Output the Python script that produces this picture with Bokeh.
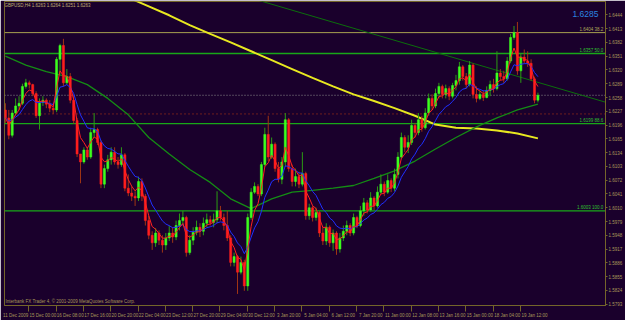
from bokeh.plotting import figure
from bokeh.models import Range1d, FixedTicker, Label, PrintfTickFormatter, ColumnDataSource
from bokeh.embed import file_html
from bokeh.resources import INLINE
from bokeh.core.properties import value

# ---------------- data (GBPUSD, H4) ----------------
first_open = 1.6230
closes = [1.6212,1.6173,1.6223,1.6239,1.6245,1.6283,1.6291,1.6287,1.6267,1.6217,
 1.6247,1.6252,1.6243,1.6234,1.6230,1.6344,1.6375,1.6291,1.6305,1.6252,
 1.6206,1.6131,1.6113,1.6140,1.6124,1.6179,1.6186,1.6157,1.6063,1.6098,
 1.6118,1.6135,1.6113,1.6107,1.6129,1.6054,1.6043,1.6036,1.6032,1.6069,
 1.6036,1.5981,1.5948,1.5931,1.5953,1.5937,1.5926,1.5942,1.5953,1.5944,
 1.5970,1.5981,1.5988,1.5909,1.5937,1.5955,1.5966,1.5957,1.5975,1.5983,
 1.5977,1.5983,1.6003,1.5988,1.5970,1.5942,1.5887,1.5900,1.5865,1.5887,
 1.5834,1.5988,1.6045,1.6058,1.6041,1.6107,1.6175,1.6124,1.6153,1.6098,
 1.6074,1.6113,1.6208,1.6098,1.6069,1.6080,1.6063,1.6087,1.5992,1.6010,
 1.5988,1.5999,1.5953,1.5935,1.5966,1.5931,1.5953,1.5917,1.5942,1.5957,
 1.5970,1.5953,1.5988,1.5970,1.6003,1.6021,1.6005,1.6032,1.6014,1.6045,
 1.6063,1.6045,1.6071,1.6054,1.6085,1.6124,1.6168,1.6146,1.6157,1.6195,
 1.6179,1.6208,1.6190,1.6223,1.6256,1.6239,1.6267,1.6283,1.6265,1.6278,
 1.6261,1.6285,1.6296,1.6327,1.6305,1.6287,1.6331,1.6265,1.6256,1.6265,
 1.6258,1.6274,1.6287,1.6278,1.6313,1.6305,1.6300,1.6340,1.6393,1.6404,
 1.6318,1.6349,1.6340,1.6335,1.6300,1.6252,1.6263]
highs = [1.6245,1.6230,1.6230,1.6256,1.6261,1.6289,1.6300,1.6296,1.6289,1.6272,
 1.6256,1.6261,1.6256,1.6252,1.6245,1.6349,1.6379,1.6390,1.6322,1.6313,
 1.6261,1.6212,1.6131,1.6146,1.6146,1.6190,1.6223,1.6190,1.6162,1.6107,
 1.6129,1.6146,1.6146,1.6124,1.6146,1.6133,1.6085,1.6058,1.6047,1.6080,
 1.6076,1.6041,1.5992,1.5957,1.5964,1.5959,1.5948,1.5953,1.5970,1.5966,
 1.5981,1.5997,1.6003,1.5992,1.5948,1.5966,1.5981,1.5975,1.5988,1.5997,
 1.5992,1.5997,1.6047,1.6014,1.5997,1.6003,1.5948,1.5909,1.5904,1.5900,
 1.5893,1.5997,1.6054,1.6067,1.6063,1.6113,1.6190,1.6217,1.6168,1.6157,
 1.6113,1.6124,1.6223,1.6212,1.6107,1.6098,1.6091,1.6135,1.6091,1.6019,
 1.6014,1.6010,1.6003,1.5966,1.5975,1.5970,1.5961,1.5957,1.5953,1.5970,
 1.5981,1.5975,1.5997,1.5992,1.6014,1.6032,1.6027,1.6045,1.6036,1.6058,
 1.6085,1.6069,1.6085,1.6076,1.6098,1.6135,1.6179,1.6173,1.6173,1.6208,
 1.6201,1.6223,1.6217,1.6234,1.6267,1.6265,1.6278,1.6291,1.6287,1.6287,
 1.6283,1.6291,1.6309,1.6338,1.6331,1.6313,1.6340,1.6335,1.6283,1.6274,
 1.6274,1.6283,1.6296,1.6300,1.6362,1.6322,1.6318,1.6349,1.6401,1.6419,
 1.6428,1.6357,1.6366,1.6362,1.6344,1.6305,1.6269]
lows = [1.6201,1.6164,1.6168,1.6217,1.6230,1.6241,1.6278,1.6278,1.6261,1.6212,
 1.6186,1.6239,1.6234,1.6225,1.6221,1.6225,1.6311,1.6283,1.6287,1.6245,
 1.6199,1.6124,1.6065,1.6109,1.6118,1.6120,1.6168,1.6151,1.6054,1.6054,
 1.6091,1.6107,1.6107,1.6098,1.6102,1.6047,1.6036,1.6025,1.6014,1.6025,
 1.6025,1.5970,1.5939,1.5915,1.5922,1.5926,1.5909,1.5915,1.5935,1.5931,
 1.5937,1.5959,1.5970,1.5900,1.5904,1.5926,1.5948,1.5944,1.5948,1.5966,
 1.5970,1.5966,1.5975,1.5981,1.5959,1.5935,1.5878,1.5878,1.5816,1.5860,
 1.5823,1.5823,1.5983,1.6041,1.6036,1.6036,1.6102,1.6115,1.6120,1.6091,
 1.6067,1.6063,1.6102,1.6091,1.6058,1.6058,1.6054,1.6058,1.5983,1.5983,
 1.5979,1.5981,1.5944,1.5926,1.5926,1.5922,1.5913,1.5904,1.5909,1.5935,
 1.5948,1.5946,1.5948,1.5964,1.5966,1.5992,1.5997,1.6001,1.6005,1.6010,
 1.6041,1.6036,1.6041,1.6045,1.6047,1.6076,1.6120,1.6135,1.6133,1.6151,
 1.6168,1.6173,1.6181,1.6186,1.6217,1.6230,1.6234,1.6256,1.6256,1.6256,
 1.6252,1.6256,1.6274,1.6287,1.6296,1.6278,1.6283,1.6256,1.6247,1.6252,
 1.6250,1.6256,1.6261,1.6269,1.6274,1.6296,1.6291,1.6296,1.6335,1.6388,
 1.6309,1.6291,1.6335,1.6327,1.6296,1.6245,1.6247]

# slow moving averages (bar index, price)
ma_green_bars = [0,6,12,18,24,30,36,42,48,54,60,66,72,78,84,90,96,102,108,114,120,126,132,138,144,150,156]
ma_green_vals = [1.6351,1.6331,1.6316,1.6305,1.6287,1.6256,1.6219,1.6168,1.6131,1.6096,1.6067,1.6030,1.6008,
                 1.6030,1.6045,1.6049,1.6054,1.6060,1.6076,1.6093,1.6115,1.6142,1.6168,1.6192,1.6212,1.6230,1.6243]
ma_yellow_bars = [36,42,48,54,60,66,72,78,84,90,96,102,108,114,120,126,132,138,144,150,156]
ma_yellow_vals = [1.6483,1.6463,1.6443,1.6421,1.6401,1.6382,1.6362,1.6342,1.6322,1.6302,1.6283,1.6265,
                  1.6250,1.6234,1.6217,1.6197,1.6190,1.6188,1.6184,1.6177,1.6166]

trend_bars = [121, 172]
trend_vals = [1.6371, 1.6256]

level_vals = [1.6404, 1.6357, 1.6199, 1.6003]
level_texts = ["1.6404  38.2", "1.6357  50.0", "1.6199  88.6", "1.6003  100.0"]
bid_price = 1.6263
red_price = 1.6221

y_ticks = [1.6444,1.6413,1.6382,1.6351,1.6320,1.6289,1.6258,1.6227,1.6196,1.6165,1.6134,
           1.6103,1.6072,1.6041,1.6010,1.5979,1.5948,1.5917,1.5886,1.5855,1.5824,1.5793]
time_labels = ["11 Dec 2009","15 Dec 00:00","16 Dec 08:00","17 Dec 16:00","20 Dec 20:00",
               "22 Dec 04:00","23 Dec 12:00","27 Dec 20:00","29 Dec 04:00","30 Dec 12:00",
               "3 Jan 20:00","5 Jan 04:00","6 Jan 12:00","7 Jan 20:00","11 Jan 00:00",
               "12 Jan 08:00","13 Jan 16:00","15 Jan 00:00","18 Jan 04:00","19 Jan 12:00"]

title_text = "GBPUSD,H4  1.6263 1.6264 1.6251 1.6263"
copyright_text = "Interbank FX Trader 4, \u00a9 2001-2009 MetaQuotes Software Corp."
big_text = "1.6285"

# ---------------- styling ----------------
BG = "#1a002c"
AX = "#74652a"
AXT = "#a89858"
BULL, BEAR = "#3cff1e", "#ff1e1e"
BULL_W, BEAR_W = "#2c9c14", "#a03414"
FONT = "Liberation Sans"

n = len(closes)
bars = list(range(n))
opens = [first_open] + closes[:-1]
up = [c >= o for o, c in zip(opens, closes)]

def ema(vals, period):
    a = 2.0 / (period + 1)
    out = [vals[0]]
    for v in vals[1:]:
        out.append(out[-1] + a * (v - out[-1]))
    return out

src = ColumnDataSource(dict(
    x=bars, o=opens, c=closes, h=highs, l=lows,
    top=[max(o, c) for o, c in zip(opens, closes)],
    bot=[min(o, c) for o, c in zip(opens, closes)],
    body=[BULL if u else BEAR for u in up],
    wick=[BULL_W if u else BEAR_W for u in up],
))

x0, x1 = -0.26, 175.8
p = figure(width=625, height=320, x_range=Range1d(x0, x1), y_range=Range1d(1.5790, 1.6474),
           y_axis_location="right", output_backend="svg", toolbar_location=None,
           min_border_left=4, min_border_right=0, min_border_top=1, min_border_bottom=0,
           background_fill_color=BG, border_fill_color=BG, outline_line_color=AX)
p.xgrid.visible = False
p.ygrid.visible = False

# level lines
p.line([x0, x1], [level_vals[0]] * 2, line_color="#a8a050", line_width=1)
for v in level_vals[1:]:
    p.line([x0, x1], [v, v], line_color="#18a818", line_width=1.3)
p.line([x0, x1], [bid_price] * 2, line_color="#8a8a8a", line_width=1, line_dash="1 2")
p.line([x0, x1], [red_price] * 2, line_color="#c03a10", line_width=1, line_dash="1 3")

# trend line through two anchor points, extended
slope = (trend_vals[1] - trend_vals[0]) / (trend_bars[1] - trend_bars[0])
tx = [60, x1]
ty = [trend_vals[0] + slope * (t - trend_bars[0]) for t in tx]
p.line(tx, ty, line_color="#0c6e0c", line_width=1)

# slow MAs
p.line(ma_yellow_bars, ma_yellow_vals, line_color="#e8e820", line_width=2)
p.line(ma_green_bars, ma_green_vals, line_color="#148c14", line_width=1.3)

# candles
p.segment(x0="x", y0="h", x1="x", y1="l", source=src, line_color="wick", line_width=1)
p.vbar(x="x", top="top", bottom="bot", width=0.62, source=src, fill_color="body", line_color="body", line_width=0.5)

# fast MAs
p.line(bars, ema(closes, 10), line_color="#2030ff", line_width=1)
p.line(bars, ema(closes, 4), line_color="#ff2020", line_width=1)

# level labels
p.text(x=[x1] * 4, y=level_vals, text=level_texts, x_offset=-1, y_offset=-1,
       text_align="right", text_baseline="bottom", text_font=value(FONT), text_font_size="4.5px",
       text_color=["#b0a858", "#30c030", "#30c030", "#30c030"])

p.add_layout(Label(x=x0, y=1.6474, text=title_text, x_offset=0, y_offset=-1, text_baseline="top",
                   text_font=FONT, text_font_size="4.5px", text_color="#c0b070"))
p.add_layout(Label(x=x0, y=1.5790, text=copyright_text, x_offset=1, y_offset=2, text_baseline="bottom",
                   text_font=FONT, text_font_size="4.5px", text_color=AXT))
p.add_layout(Label(x=166.1, y=1.6445, text=big_text, text_baseline="alphabetic",
                   text_font=FONT, text_font_size="8.5px", text_color="#2b86e0"))
p.add_layout(Label(x=x1, y=bid_price, text="1.6263", x_offset=1, text_baseline="middle",
                   text_font=FONT, text_font_size="4.5px", text_color="#000000",
                   background_fill_color="#c8b040"))
p.add_layout(Label(x=x1, y=red_price, text="1.6221", x_offset=1, text_baseline="middle",
                   text_font=FONT, text_font_size="4.5px", text_color="#ffffff",
                   background_fill_color="#ff1010"))

# axes
ya = p.yaxis[0]
ya.ticker = FixedTicker(ticks=y_ticks)
ya.formatter = PrintfTickFormatter(format="%.4f")
ya.axis_line_color = AX
ya.major_tick_line_color = AX
ya.major_tick_out = 2
ya.major_tick_in = 0
ya.minor_tick_line_color = None
ya.major_label_standoff = 1
ya.major_label_text_font = FONT
ya.major_label_text_font_size = "4.5px"
ya.major_label_text_color = AXT

xa = p.xaxis[0]
centers = [8 * m + 3 for m in range(len(time_labels))]
seps = [8 * m - 1.14 for m in range(len(time_labels))]
xa.ticker = FixedTicker(ticks=centers, minor_ticks=seps)
xa.major_label_overrides = {c: t for c, t in zip(centers, time_labels)}
xa.axis_line_color = AX
xa.major_tick_line_color = None
xa.major_tick_out = 0
xa.major_tick_in = 0
xa.minor_tick_line_color = AX
xa.minor_tick_out = 6
xa.minor_tick_in = 0
xa.major_label_standoff = 1
xa.major_label_text_font = FONT
xa.major_label_text_font_size = "4.5px"
xa.major_label_text_color = AXT

open("out.html", "w").write(file_html(p, INLINE))
